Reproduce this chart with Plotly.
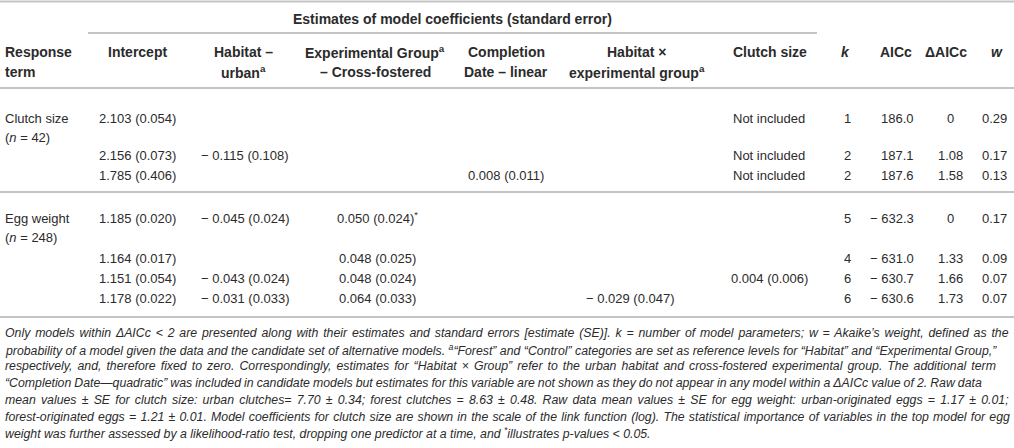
import re
import plotly.graph_objects as go

# 数据
MINUS = "\u2212 "
response = ["Clutch size", "", "", "Egg weight", "", "", ""]
response_n = ["(<i>n</i> = 42)", "", "", "(<i>n</i> = 248)", "", "", ""]
intercept = ["2.103 (0.054)", "2.156 (0.073)", "1.785 (0.406)", "1.185 (0.020)",
             "1.164 (0.017)", "1.151 (0.054)", "1.178 (0.022)"]
habitat = ["", MINUS + "0.115 (0.108)", "", MINUS + "0.045 (0.024)", "",
           MINUS + "0.043 (0.024)", MINUS + "0.031 (0.033)"]
exp_group = ["", "", "", "0.050 (0.024)<sup>*</sup>", "0.048 (0.025)", "0.048 (0.024)", "0.064 (0.033)"]
completion = ["", "", "0.008 (0.011)", "", "", "", ""]
interaction = ["", "", "", "", "", "", MINUS + "0.029 (0.047)"]
clutch = ["Not included", "Not included", "Not included", "", "", "0.004 (0.006)", ""]
k = [1, 2, 2, 5, 4, 6, 6]
aicc = ["186.0", "187.1", "187.6", MINUS + "632.3", MINUS + "631.0", MINUS + "630.7", MINUS + "630.6"]
daicc = ["0", "1.08", "1.58", "0", "1.33", "1.66", "1.73"]
w = ["0.29", "0.17", "0.13", "0.17", "0.09", "0.07", "0.07"]

header_top = ["Response", "Intercept", "Habitat \u2013", "Experimental Group<sup>a</sup>", "Completion",
              "Habitat \u00d7", "Clutch size", "<i>k</i>", "AICc", "\u0394AICc", "<i>w</i>"]
header_bot = ["term", "", "urban<sup>a</sup>", "\u2013 Cross-fostered", "Date \u2013 linear",
              "experimental group<sup>a</sup>", "", "", "", "", ""]
span_title = "Estimates of model coefficients (standard error)"

notes = [
    "Only models within \u0394AICc &lt; 2 are presented along with their estimates and standard errors [estimate (SE)]. k = number of model parameters; w = Akaike\u2019s weight, defined as the",
    "probability of a model given the data and the candidate set of alternative models. <sup>a</sup>\u201cForest\u201d and \u201cControl\u201d categories are set as reference levels for \u201cHabitat\u201d and \u201cExperimental Group,\u201d",
    "respectively, and, therefore fixed to zero. Correspondingly, estimates for \u201cHabitat \u00d7 Group\u201d refer to the urban habitat and cross-fostered experimental group. The additional term",
    "\u201cCompletion Date\u2014quadratic\u201d was included in candidate models but estimates for this variable are not shown as they do not appear in any model within a \u0394AICc value of 2. Raw data",
    "mean values \u00b1 SE for clutch size: urban clutches= 7.70 \u00b1 0.34; forest clutches = 8.63 \u00b1 0.48. Raw data mean values \u00b1 SE for egg weight: urban-originated eggs = 1.17 \u00b1 0.01;",
    "forest-originated eggs = 1.21 \u00b1 0.01. Model coefficients for clutch size are shown in the scale of the link function (log). The statistical importance of variables in the top model for egg",
    "weight was further assessed by a likelihood-ratio test, dropping one predictor at a time, and <sup>*</sup>illustrates p-values &lt; 0.05.",
]

# 版式
FONT = "Liberation Sans, Arial, sans-serif"
TXT = "#2b2b2b"
LINE = "#c4c4c4"
row_y = [118, 155, 175, 218, 258, 278, 298]
n_dy = 19
hdr_y = [52, 72]
hdr_x = [3, 137, 243, 375, 506, 637, 770, 845, 896, 946, 997]
note_y0, note_dy = 333, 16.7
note_size = 12.3
# 每行自然宽度（12px 时量得），用于两端对齐
note_w12 = [940, 980, 944, 992, 925, 956, None]
note_target = 1005

# (values, x, xanchor)
columns = [
    (intercept, 137, "center"),
    (habitat, 245, "center"),
    (exp_group, 377, "center"),
    (completion, 506, "center"),
    (interaction, 630, "center"),
    (clutch, 769, "center"),
    ([str(v) for v in k], 847, "center"),
    (aicc, 916, "right"),
    (daicc, 950, "center"),
    (w, 994, "center"),
]

fig = go.Figure()
ann = []


def txt(x, y, s, anchor="center", size=13, bold=False, italic=False):
    if bold:
        s = "<b>" + s + "</b>"
    ann.append(dict(x=x, y=y, xref="x", yref="y", text=s, showarrow=False,
                    xanchor=anchor, yanchor="middle", align=anchor,
                    font=dict(family=FONT, size=size, color=TXT,
                              style="italic" if italic else "normal")))


# 表头
txt(452, 19, span_title, size=14, bold=True)
for i, (a, b) in enumerate(zip(header_top, header_bot)):
    anchor = "left" if i == 0 else "center"
    txt(hdr_x[i], hdr_y[0], a, anchor, size=14, bold=True)
    if b:
        txt(hdr_x[i], hdr_y[1], b, anchor, size=14, bold=True)

# 数据行
for r, y in enumerate(row_y):
    if response[r]:
        txt(3, y, response[r], "left")
        txt(3, y + n_dy, response_n[r], "left")
    for vals, x, anchor in columns:
        if vals[r]:
            txt(x, y, vals[r], anchor)

# 注释（两端对齐）
for i, line in enumerate(notes):
    s = line
    if note_w12[i]:
        plain = re.sub(r"<[^>]+>", "", line)
        n_sp = plain.count(" ")
        natural = note_w12[i] * note_size / 12
        ws = (note_target - natural) / n_sp
        s = '<span style="word-spacing:%.2fpx">%s</span>' % (ws, line)
    txt(3, note_y0 + i * note_dy, s, "left", size=note_size, italic=True)

# 横线
shapes = []
for y, x0, x1 in [(1.5, 0, 1014), (33, 88, 817), (88, 0, 1014), (192, 0, 1014), (317, 0, 1014)]:
    shapes.append(dict(type="line", xref="x", yref="y", x0=x0, x1=x1, y0=y, y1=y,
                       line=dict(color=LINE, width=2)))

fig.update_layout(
    width=1014, height=448,
    margin=dict(l=0, r=0, t=0, b=0),
    paper_bgcolor="white", plot_bgcolor="white",
    xaxis=dict(range=[0, 1014], visible=False, fixedrange=True),
    yaxis=dict(range=[448, 0], visible=False, fixedrange=True),
    annotations=ann, shapes=shapes,
    showlegend=False,
)
fig.write_html("out.html", config={"displayModeBar": False},
               post_script="document.body.style.margin='0px';document.body.style.overflow='hidden';")
